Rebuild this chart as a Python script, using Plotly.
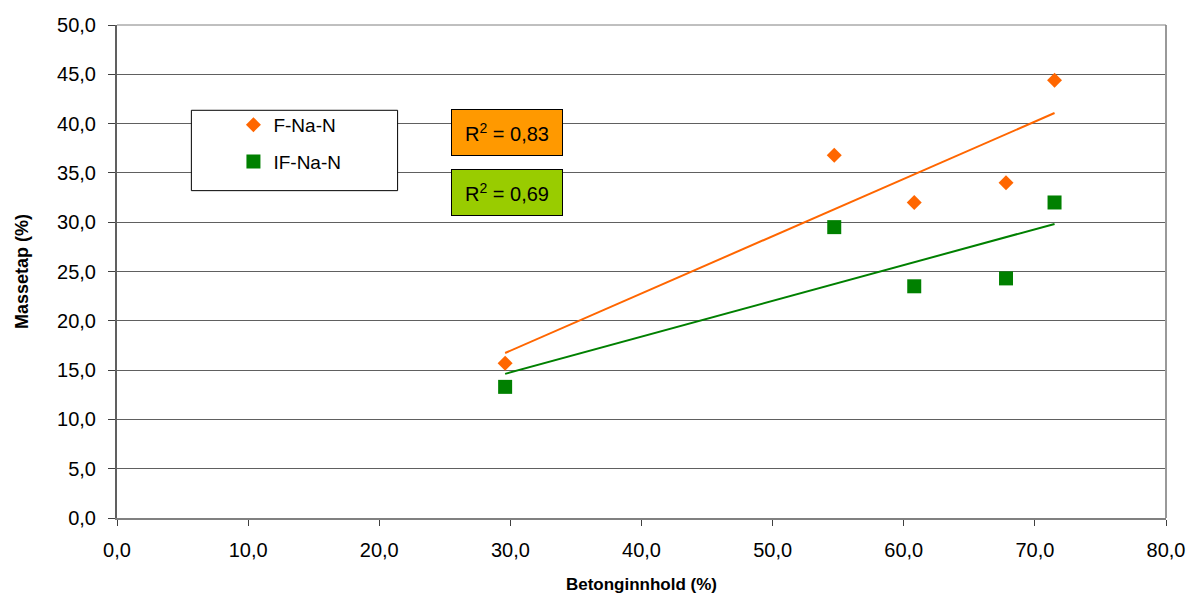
import numpy as np
import plotly.graph_objects as go

# Data
betong = [29.6, 54.7, 60.8, 67.8, 71.5]
f_na_n = [15.7, 36.8, 32.0, 34.0, 44.4]
if_na_n = [13.3, 29.5, 23.5, 24.3, 32.0]
series_names = ["F-Na-N", "IF-Na-N"]
r2_labels = ["0,83", "0,69"]

orange = "#FF6600"
green = "#008000"
font = "Liberation Sans, Arial, sans-serif"

fig = go.Figure()

def trend(xs, ys):
    xs = np.array(xs); ys = np.array(ys)
    k, m = np.polyfit(xs, ys, 1)
    xx = np.array([xs.min(), xs.max()])
    return xx, k * xx + m

for ys, name, col, sym, grp in [(f_na_n, series_names[0], orange, "diamond", "a"),
                                (if_na_n, series_names[1], green, "square", "b")]:
    tx, ty = trend(betong, ys)
    fig.add_trace(go.Scatter(x=tx, y=ty, mode="lines", line=dict(color=col, width=2),
                             showlegend=False, hoverinfo="skip"))
    fig.add_trace(go.Scatter(x=betong, y=ys, mode="markers", name=name, legendgroup=grp,
                             marker=dict(symbol=sym, size=14 if sym == "square" else 11.5,
                                         color=col, line=dict(width=0))))

grid_col = "#606060"
fig.update_layout(
    width=1197, height=603,
    margin=dict(l=117, r=18, t=25, b=80),
    paper_bgcolor="white", plot_bgcolor="white",
    separators=", ",
    font=dict(family=font, size=19, color="black"),
    showlegend=True,
    legend=dict(x=0.111, y=0.836, xanchor="left", yanchor="top",
                bgcolor="rgba(0,0,0,0)", borderwidth=0,
                traceorder="grouped", tracegroupgap=9,
                font=dict(family=font, size=19)),
    xaxis=dict(range=[0, 80], dtick=10, tickformat=".1f", showgrid=False,
               showline=True, linecolor="#808080", linewidth=2,
               ticks="outside", ticklen=6, tickcolor="#404040",
               tickfont=dict(size=20), ticklabelstandoff=7,
               ticklabeloverflow="allow",
               zeroline=False,
               title=dict(text="<b>Betonginnhold (%)</b>", font=dict(size=17), standoff=18)),
    yaxis=dict(range=[0, 50], dtick=5, tickformat=".1f", showgrid=True,
               gridcolor=grid_col, gridwidth=1,
               showline=True, linecolor="#606060", linewidth=2,
               ticks="outside", ticklen=7, tickcolor="#404040",
               tickfont=dict(size=20), ticklabelstandoff=8,
               zeroline=False,
               title=dict(text="<b>Massetap (%)</b>", font=dict(size=18), standoff=24)),
    shapes=[
        dict(type="line", xref="paper", yref="paper", x0=1, x1=1, y0=0, y1=1,
             line=dict(color="#999999", width=2)),
        dict(type="line", xref="paper", yref="paper", x0=0, x1=1, y0=1, y1=1,
             line=dict(color="#808080", width=1)),
        dict(type="rect", xref="paper", yref="paper", x0=0.0709, x1=0.2675,
             y0=0.664, y1=0.827, fillcolor="white", line=dict(color="black", width=1),
             layer="above"),
    ],
    annotations=[
        dict(xref="paper", yref="paper", x=0.3715, y=0.781, xanchor="center", yanchor="middle",
             showarrow=False,
             text="R<sup>2</sup> = " + r2_labels[0], font=dict(size=20, family=font),
             bgcolor="#FF9900", bordercolor="black", borderwidth=1, borderpad=0,
             width=110, height=45),
        dict(xref="paper", yref="paper", x=0.3715, y=0.661, xanchor="center", yanchor="middle",
             showarrow=False,
             text="R<sup>2</sup> = " + r2_labels[1], font=dict(size=20, family=font),
             bgcolor="#99CC00", bordercolor="black", borderwidth=1, borderpad=0,
             width=110, height=45),
    ],
)

fig.write_html("out.html", config={"displayModeBar": False},
               post_script="document.documentElement.style.margin='0';"
                           "document.body.style.margin='0';"
                           "document.documentElement.style.overflow='hidden';"
                           "document.body.style.overflow='hidden';")
